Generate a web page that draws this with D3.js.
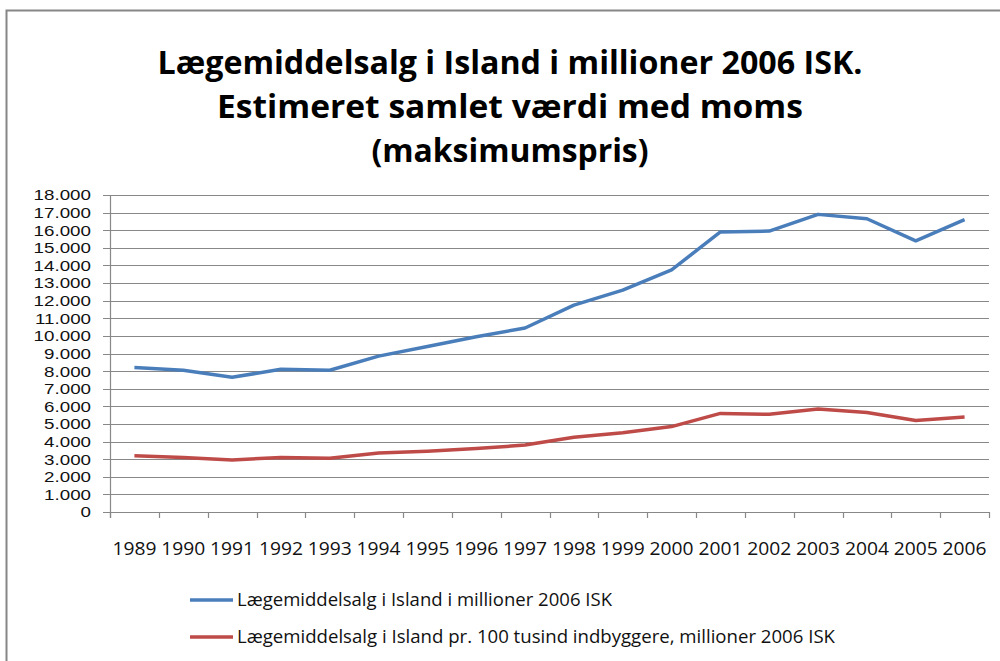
<!DOCTYPE html>
<html><head><meta charset="utf-8">
<script src="https://cdn.jsdelivr.net/npm/d3@7"></script>
<style>body{margin:0;background:#fff}svg{display:block}</style>
</head><body><svg id="c" width="1000" height="661"></svg>
<script>
const years = ["1989","1990","1991","1992","1993","1994","1995","1996","1997","1998","1999","2000","2001","2002","2003","2004","2005","2006"];
const totalSales = [8200,8050,7650,8100,8050,8850,9400,9950,10450,11750,12600,13750,15900,15950,16900,16650,15400,16600];
const perCapita = [3200,3100,2950,3100,3050,3350,3450,3600,3800,4250,4500,4850,5600,5550,5850,5650,5200,5400];
const seriesNames = ["Lægemiddelsalg i Island i millioner 2006 ISK","Lægemiddelsalg i Island pr. 100 tusind indbyggere, millioner 2006 ISK"];
const yTicks = [0,1000,2000,3000,4000,5000,6000,7000,8000,9000,10000,11000,12000,13000,14000,15000,16000,17000,18000];
const titleLines = ["Lægemiddelsalg i Island i millioner 2006 ISK.","Estimeret samlet værdi med moms","(maksimumspris)"];

const svg = d3.select("#c");
const font = "'Open Sans', sans-serif";
const gridCol = "#888";
const colors = ["#4A7EBB","#BE4B48"];

// outer border
svg.append("rect").attr("x",6.5).attr("y",10.5).attr("width",1000).attr("height",700)
  .attr("fill","#fff").attr("stroke","#868686").attr("stroke-width",2);

// title
const tW = [705, 586, 277];
const tY = [74, 118, 162];
titleLines.forEach((t,i)=>{
  svg.append("text").attr("x",510).attr("y",tY[i]).attr("text-anchor","middle")
    .attr("font-family",font).attr("font-weight","bold").attr("font-size",33)
    .attr("textLength",tW[i]).attr("lengthAdjust","spacingAndGlyphs").text(t);
});

const x = d3.scaleBand().domain(years).range([110,989]);
const y = d3.scaleLinear().domain([0,18000]).range([512,195]);

// gridlines
svg.append("g").selectAll("line").data(yTicks).join("line")
  .attr("x1",103).attr("x2",989).attr("y1",d=>Math.round(y(d))+0.5).attr("y2",d=>Math.round(y(d))+0.5)
  .attr("stroke",gridCol).attr("stroke-width",1.2);

// y axis labels
const yl = svg.append("g").selectAll("text").data(yTicks).join("text")
  .attr("x",91).attr("y",d=>y(d)).attr("dy","0.36em").attr("text-anchor","end")
  .attr("font-family","'Liberation Sans', Arial, sans-serif").attr("font-size",15).attr("fill","#111")
  .text(d=>d3.format(",")(d).replace(/,/g,"."));
yl.each(function(){ const w=this.getComputedTextLength(); d3.select(this).attr("textLength",w*1.25).attr("lengthAdjust","spacingAndGlyphs"); });

// y axis line
svg.append("line").attr("x1",110.5).attr("x2",110.5).attr("y1",195).attr("y2",518)
  .attr("stroke",gridCol).attr("stroke-width",1.2);

// x ticks at band boundaries
const bounds = years.map(d=>x(d)).concat([x.range()[1]]);
svg.append("g").selectAll("line").data(bounds).join("line")
  .attr("x1",d=>Math.round(d)+0.5).attr("x2",d=>Math.round(d)+0.5).attr("y1",512).attr("y2",518)
  .attr("stroke",gridCol).attr("stroke-width",1.2);

// x labels
svg.append("g").selectAll("text").data(years).join("text")
  .attr("x",d=>x(d)+x.bandwidth()/2).attr("y",555).attr("text-anchor","middle")
  .attr("font-family",font).attr("font-size",18).attr("fill","#111")
  .attr("textLength",44).attr("lengthAdjust","spacingAndGlyphs").text(d=>d);

// lines
const line = d3.line().x((d,i)=>x(years[i])+x.bandwidth()/2).y(d=>y(d));
[totalSales, perCapita].forEach((s,i)=>{
  svg.append("path").datum(s).attr("d",line).attr("fill","none")
    .attr("stroke",colors[i]).attr("stroke-width",3.5).attr("stroke-linejoin","round");
});

// legend
const legY = [600, 637];
const legW = [375, 598];
seriesNames.forEach((n,i)=>{
  svg.append("line").attr("x1",190).attr("x2",233).attr("y1",legY[i]).attr("y2",legY[i])
    .attr("stroke",colors[i]).attr("stroke-width",3.5);
  svg.append("text").attr("x",237).attr("y",legY[i]).attr("dy","0.36em")
    .attr("font-family",font).attr("font-size",18).attr("fill","#111")
    .attr("textLength",legW[i]).attr("lengthAdjust","spacingAndGlyphs").text(n);
});
</script></body></html>
